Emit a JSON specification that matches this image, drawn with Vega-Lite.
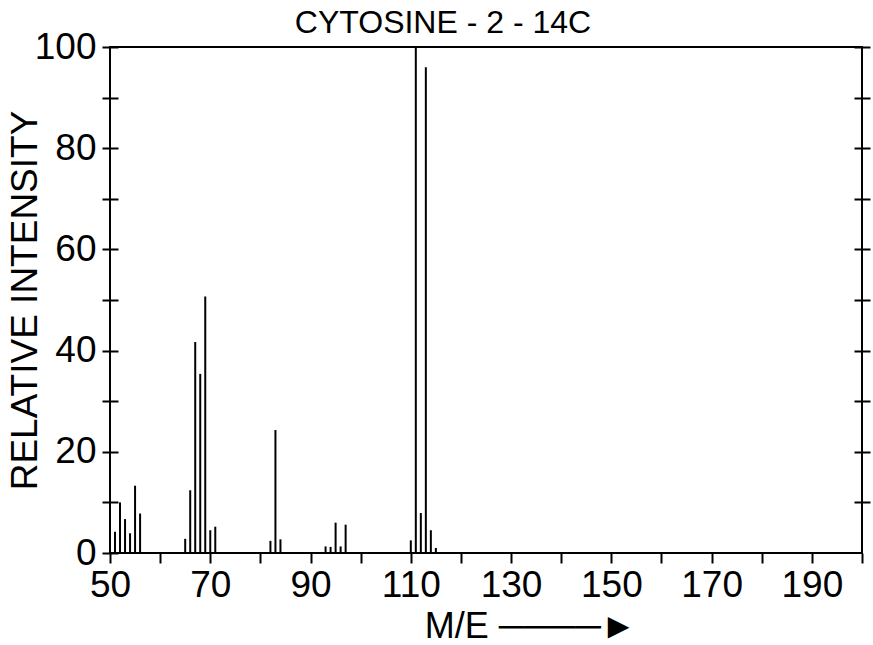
{
  "$schema": "https://vega.github.io/schema/vega-lite/v6.json",
  "width": 752,
  "height": 506,
  "autosize": {"type": "none"},
  "padding": {"left": 110, "top": 47, "right": 11, "bottom": 92},
  "background": "white",
  "title": {"text": "CYTOSINE - 2 - 14C", "frame": "group", "font": "Liberation Sans", "fontSize": 32, "fontWeight": "normal", "color": "black", "anchor": "middle", "dx": -43, "offset": -12},
  "config": {
    "view": {"stroke": "black", "strokeWidth": 2},
    "axis": {"domain": false, "grid": false, "tickColor": "black", "tickWidth": 2, "labelColor": "black", "labelFont": "Liberation Sans", "labelFontSize": 37, "titleFont": "Liberation Sans", "titleFontWeight": "normal", "titleFontSize": 36, "titleColor": "black"}
  },
  "data": {"values": [
    {"me": 51, "ri": 4.2}, {"me": 52, "ri": 10.0}, {"me": 53, "ri": 6.7}, {"me": 54, "ri": 3.9}, {"me": 55, "ri": 13.3}, {"me": 56, "ri": 7.8},
    {"me": 65, "ri": 2.8}, {"me": 66, "ri": 12.4}, {"me": 67, "ri": 41.7}, {"me": 68, "ri": 35.4}, {"me": 69, "ri": 50.7}, {"me": 70, "ri": 4.5}, {"me": 71, "ri": 5.2},
    {"me": 82, "ri": 2.4}, {"me": 83, "ri": 24.3}, {"me": 84, "ri": 2.7},
    {"me": 93, "ri": 1.3}, {"me": 94, "ri": 1.2}, {"me": 95, "ri": 6.0}, {"me": 96, "ri": 1.3}, {"me": 97, "ri": 5.6},
    {"me": 110, "ri": 2.5}, {"me": 111, "ri": 100}, {"me": 112, "ri": 7.9}, {"me": 113, "ri": 96}, {"me": 114, "ri": 4.5}, {"me": 115, "ri": 1.0}
  ]},
  "layer": [
    {
      "mark": {"type": "rule", "color": "black", "strokeWidth": 2},
      "encoding": {
        "x": {"field": "me", "type": "quantitative", "scale": {"domain": [50, 200], "nice": false, "zero": false},
          "axis": {"title": "M/E ────►", "values": [50, 60, 70, 80, 90, 100, 110, 120, 130, 140, 150, 160, 170, 180, 190, 200], "labelExpr": "((datum.value - 50) % 20 == 0 && datum.value < 200) ? datum.label : ''", "tickSize": 10, "labelPadding": 4, "titlePadding": 6, "labelFlush": false, "titleX": 420, "titleAnchor": "middle"}},
        "y": {"field": "ri", "type": "quantitative", "scale": {"domain": [0, 100], "nice": false},
          "axis": {"orient": "left", "title": "RELATIVE INTENSITY", "values": [0, 10, 20, 30, 40, 50, 60, 70, 80, 90, 100], "labelExpr": "datum.value % 20 == 0 ? datum.label : ''", "offset": -8, "tickSize": 16, "labelPadding": 6, "titleX": -93, "titleY": 253, "titleBaseline": "middle", "titleAnchor": "middle", "titleFontSize": 37}},
        "y2": {"datum": 0}
      }
    },
    {
      "mark": {"type": "rule", "opacity": 0},
      "encoding": {
        "y": {"field": "ri", "type": "quantitative", "scale": {"domain": [0, 100], "nice": false},
          "axis": {"orient": "right", "title": null, "values": [10, 20, 30, 40, 50, 60, 70, 80, 90, 100], "labels": false, "offset": -8, "tickSize": 16}}
      }
    }
  ],
  "resolve": {"axis": {"y": "independent"}}
}
